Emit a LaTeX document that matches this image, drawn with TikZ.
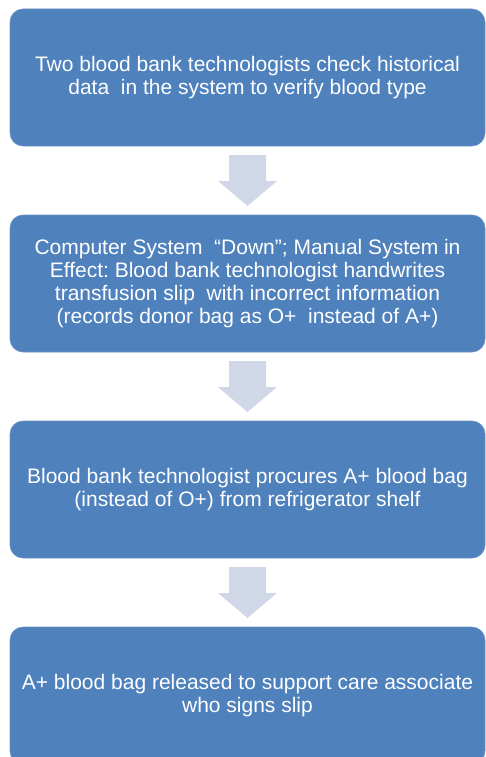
\documentclass[tikz,border=0pt]{standalone}
\usepackage{fontspec}
\setmainfont{Liberation Sans}
\frenchspacing
\usetikzlibrary{positioning,calc}
\definecolor{stepblue}{HTML}{4F81BD}
\definecolor{stepedge}{HTML}{6A93C8}
\definecolor{arrowgray}{HTML}{D0D8E8}
\tikzset{
    stepbox/.style = {rectangle, rounded corners=13pt, minimum width=475pt, minimum height=137pt, inner sep=0pt, outer sep=0pt, align=center, draw=stepedge, line width=0.6pt, fill=stepblue, text=white, font=\fontsize{21}{23}\selectfont},
    flowarrow/.style = {fill=arrowgray, draw=none}
}
% block arrow between two boxes
\newcommand{\blockarrow}[2]{%
  \fill[flowarrow] ($(#1.south)+(-18.5pt,-9pt)$) -- ++(37pt,0pt) -- ++(0pt,-26pt) -- ++(11pt,0pt)
    -- ($(#2.north)+(0pt,9pt)$) -- ($(#1.south)+(-29.5pt,-35pt)$) -- ++(11pt,0pt) -- cycle;}

\begin{document}
\begin{tikzpicture}[node distance=69pt]
\clip (0pt,0pt) rectangle (486pt,-757pt);
\node (check) [stepbox] at (247.5pt,-77.5pt) {Two blood bank technologists check historical\\data \ in the system to verify blood type};
\node (manual) [stepbox, below=of check] {Computer System \ ``Down''; Manual System in\\Effect: Blood bank technologist handwrites\\transfusion slip \ with incorrect information\\(records donor bag as O+ \ instead of A+)};
\node (procure) [stepbox, below=of manual] {Blood bank technologist procures A+ blood bag\\(instead of O+) from refrigerator shelf};
\node (release) [stepbox, below=of procure] {A+ blood bag released to support care associate\\who signs slip};

\blockarrow{check}{manual}
\blockarrow{manual}{procure}
\blockarrow{procure}{release}
\end{tikzpicture}
\end{document}
